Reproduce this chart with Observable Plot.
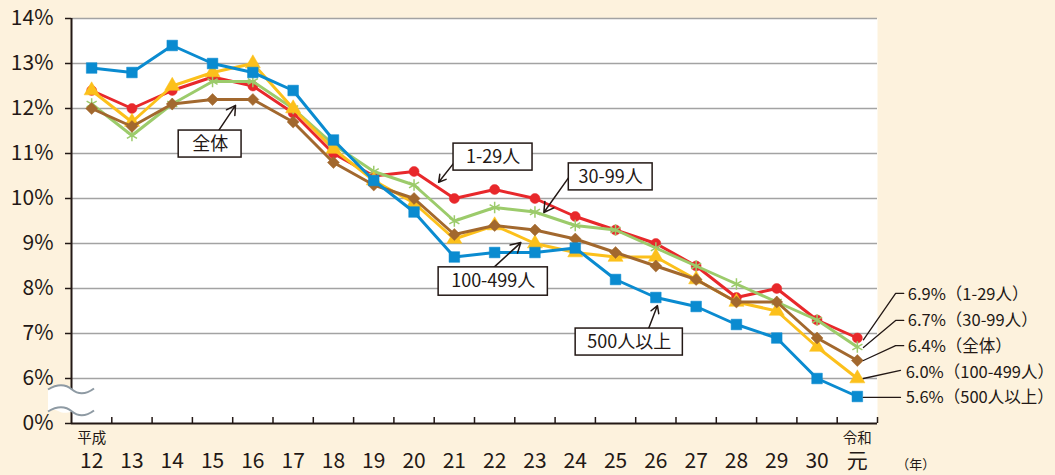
<!DOCTYPE html>
<html><head><meta charset="utf-8">
<script src="https://cdn.jsdelivr.net/npm/d3@7"></script>
<script src="https://cdn.jsdelivr.net/npm/@observablehq/plot@0.6"></script>
<style>html,body{margin:0;padding:0;background:#fdf2dd;} svg{display:block}</style>
</head><body><div id="chart"></div>
<script>
// ---- data ----
const years = ["12","13","14","15","16","17","18","19","20","21","22","23","24","25","26","27","28","29","30","元"];
const eraLabels = [{i: 0, text: "平成"}, {i: 19, text: "令和"}];
const yTicks = [5, 6, 7, 8, 9, 10, 11, 12, 13, 14];        // 5 stands for the broken-axis 0%
const yTickLabels = ["0%", "6%", "7%", "8%", "9%", "10%", "11%", "12%", "13%", "14%"];

const v1_29   = [12.4, 12.0, 12.4, 12.7, 12.5, 11.9, 11.0, 10.5, 10.6, 10.0, 10.2, 10.0, 9.6, 9.3, 9.0, 8.5, 7.8, 8.0, 7.3, 6.9];
const v30_99  = [12.1, 11.4, 12.1, 12.6, 12.6, 12.0, 11.2, 10.6, 10.3, 9.5, 9.8, 9.7, 9.4, 9.3, 8.9, 8.5, 8.1, 7.7, 7.3, 6.7];
const v100_499= [12.4, 11.7, 12.5, 12.8, 13.0, 12.0, 11.1, 10.4, 9.9, 9.1, 9.4, 9.0, 8.8, 8.7, 8.7, 8.2, 7.7, 7.5, 6.7, 6.0];
const vTotal  = [12.0, 11.6, 12.1, 12.2, 12.2, 11.7, 10.8, 10.3, 10.0, 9.2, 9.4, 9.3, 9.1, 8.8, 8.5, 8.2, 7.7, 7.7, 6.9, 6.4];
const v500    = [12.9, 12.8, 13.4, 13.0, 12.8, 12.4, 11.3, 10.4, 9.7, 8.7, 8.8, 8.8, 8.9, 8.2, 7.8, 7.6, 7.2, 6.9, 6.0, 5.6];

const series = [
  {name: "1-29人",    values: v1_29,    color: "#e8282b", symbol: "circle",   r: 5,   fill: "#e8282b"},
  {name: "30-99人",   values: v30_99,   color: "#9ccb6b", symbol: "asterisk", r: 5.5, fill: "none"},
  {name: "100-499人", values: v100_499, color: "#fcc01b", symbol: "triangle", r: 5.6, fill: "#fcc01b"},
  {name: "全体",      values: vTotal,   color: "#a2682e", symbol: "diamond2", r: 5.4, fill: "#a2682e"},
  {name: "500人以上", values: v500,     color: "#0a8bd0", symbol: "square",   r: 6,   fill: "#0a8bd0"}
];

// end labels (legend on the right)
const endLabels = [
  {text: "6.9%（1-29人）",    x: 20.25, y: 7.87},
  {text: "6.7%（30-99人）",   x: 20.25, y: 7.29},
  {text: "6.4%（全体）",      x: 20.25, y: 6.71},
  {text: "6.0%（100-499人）", x: 20.2,  y: 6.13},
  {text: "5.6%（500人以上）", x: 20.2,  y: 5.58}
];
const leaders = [
  [[19.15, 6.86], [19.95, 7.89], [20.15, 7.89]],
  [[19.15, 6.69], [19.95, 7.29], [20.15, 7.29]],
  [[19.15, 6.40], [19.95, 6.73], [20.15, 6.73]],
  [[19.15, 6.00], [20.07, 6.18]],
  [[19.15, 5.58], [20.07, 5.58]]
];
// callout boxes
const callouts = [
  {text: "全体",      x1: 2.16,  x2: 3.72,  y1: 10.91, y2: 11.51, ax1: 3.15,  ay1: 11.51, ax2: 3.57,  ay2: 12.07},
  {text: "1-29人",    x1: 8.98,  x2: 10.94, y1: 10.62, y2: 11.22, ax1: 8.98,  ay1: 10.78, ax2: 8.61,  ay2: 10.36},
  {text: "30-99人",   x1: 11.84, x2: 13.92, y1: 10.18, y2: 10.78, ax1: 11.84, ay1: 10.47, ax2: 11.22, ay2: 9.69},
  {text: "100-499人", x1: 8.61,  x2: 11.32, y1: 7.84,  y2: 8.47,  ax1: 9.98,  ay1: 8.47,  ax2: 10.65, ay2: 9.02},
  {text: "500人以上", x1: 12.01, x2: 14.67, y1: 6.51,  y2: 7.11,  ax1: 13.82, ay1: 7.11,  ax2: 14.04, ay2: 7.62}
];

// ---- marks ----
const idx = (d, i) => i;
const seriesMarks = series.flatMap(s => [
  Plot.line(s.values, {x: idx, y: d => d, stroke: s.color, strokeWidth: 3}),
  Plot.dot(s.values, {x: idx, y: d => d, symbol: s.symbol, r: s.r, fill: s.fill, stroke: s.color,
                      strokeWidth: s.symbol === "asterisk" ? 1.5 : 0.5})
]);
const xBoundaries = d3.range(1, years.length + 1).map(k => k - 0.5);

const chart = Plot.plot({
  width: 1055, height: 475,
  marginLeft: 71, marginRight: 178, marginTop: 18, marginBottom: 52,
  x: {domain: [-0.5, years.length - 0.5], axis: null},
  y: {domain: [5, 14], axis: null},
  style: {background: "transparent", fontFamily: "'Noto Sans CJK JP', 'Noto Sans', sans-serif", color: "#231815", overflow: "visible"},
  marks: [
    Plot.frame({fill: "white", stroke: null}),
    Plot.ruleY(yTicks.slice(1), {stroke: "#a3a3a3", strokeWidth: 1.5}),
    Plot.ruleY([5], {stroke: "#231815", strokeWidth: 2}),
    Plot.ruleX([-0.5], {stroke: "#231815", strokeWidth: 2}),
    Plot.ruleX(xBoundaries, {y1: 5, y2: 5 + 6 / 45, stroke: "#231815", strokeWidth: 1.5}),
    Plot.axisY({ticks: yTicks, tickSize: 6, tickPadding: 12, fontSize: 21, strokeWidth: 1.5,
                tickFormat: v => yTickLabels[yTicks.indexOf(v)]}),
    Plot.axisX({ticks: d3.range(years.length), tickSize: 0, tickPadding: 30, fontSize: 21,
                tickFormat: i => years[i]}),
    Plot.text(eraLabels, {x: "i", text: "text", frameAnchor: "bottom", dy: 19, fontSize: 14.5}),
    Plot.text(["（年）"], {x: [20.45], frameAnchor: "bottom", dy: 45, fontSize: 13, text: d => d}),
    ...seriesMarks,
    // leader lines + end labels
    ...leaders.map(pts => Plot.line(pts, {x: d => d[0], y: d => d[1], stroke: "#231815", strokeWidth: 1.3})),
    Plot.text(endLabels, {x: "x", y: "y", text: "text", textAnchor: "start", fontSize: 16.5}),
    // callouts
    Plot.arrow(callouts, {x1: "ax1", y1: "ay1", x2: "ax2", y2: "ay2", stroke: "#231815", strokeWidth: 1.5, headLength: 11, headAngle: 60}),
    Plot.rect(callouts, {x1: "x1", x2: "x2", y1: "y1", y2: "y2", fill: "white", stroke: "#231815", strokeWidth: 1.5}),
    Plot.text(callouts, {x: d => (d.x1 + d.x2) / 2, y: d => (d.y1 + d.y2) / 2, text: "text", fontSize: 18})
  ]
});

// axis break decoration (between 0% and 6%)
{
  const yb = chart.scale("y").apply(5.5);
  const x0 = 48, x1 = 94, h = 11;
  const svg = d3.select(chart);
  const g = svg.append("g");
  const wave = y => `M${x0},${y} C${x0 + 10},${y - 6} ${x0 + 18},${y - 5} ${x0 + 24},${y} S${x0 + 38},${y + 5} ${x1},${y - 1}`;
  g.append("path")
    .attr("d", `${wave(yb - h)} L${x1},${yb + h - 1} C${x1 - 8},${yb + h - 6} ${x0 + 38},${yb + h - 5} ${x0 + 24},${yb + h} S${x0 + 10},${yb + h - 6} ${x0},${yb + h} Z`)
    .attr("fill", "white").attr("stroke", "none");
  g.append("path").attr("d", wave(yb - h)).attr("fill", "none").attr("stroke", "#8e9aa3").attr("stroke-width", 2);
  g.append("path").attr("d", wave(yb + h)).attr("fill", "none").attr("stroke", "#8e9aa3").attr("stroke-width", 2);
}

document.getElementById("chart").appendChild(chart);
</script></body></html>
